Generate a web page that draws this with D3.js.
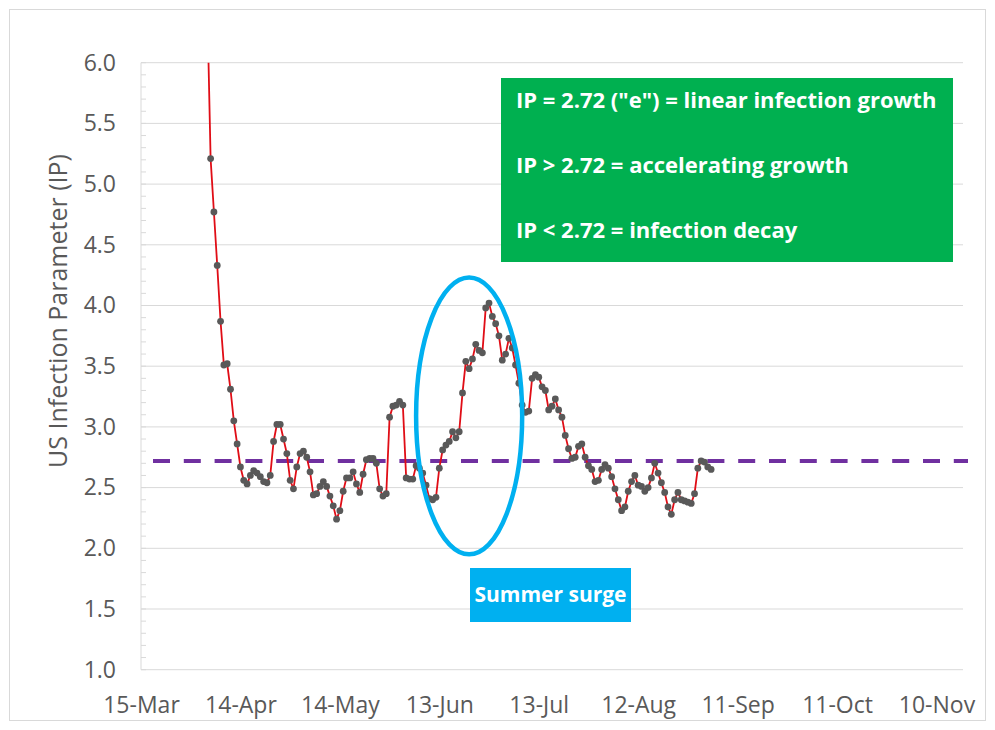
<!DOCTYPE html>
<html>
<head>
<meta charset="utf-8">
<script src="https://cdn.jsdelivr.net/npm/d3@7"></script>
<style>
  body { margin: 0; background: #fff; }
  svg { font-family: "Open Sans", "Noto Sans", sans-serif; }
</style>
</head>
<body>
<div id="chart"></div>
<script>
// daily US infection parameter, first value is 4-Apr (runs off the top of the chart)
const startDate = "2020-04-04";
const ipValues = [
  6.47,
  5.21, 4.77, 4.33, 3.87, 3.51, 3.52, 3.31, 3.05, 2.86, 2.67,
  2.56, 2.53, 2.60, 2.64, 2.62, 2.59, 2.55, 2.54, 2.60, 2.88,
  3.02, 3.02, 2.90, 2.78, 2.56, 2.49,
  2.67, 2.78, 2.80, 2.75, 2.63, 2.44, 2.45, 2.51, 2.55, 2.51,
  2.43, 2.35, 2.24, 2.31, 2.47, 2.58, 2.58, 2.63, 2.53, 2.46,
  2.61, 2.73, 2.74, 2.74, 2.70, 2.49, 2.43, 2.45, 3.08, 3.17, 3.18,
  3.21, 3.18, 2.58, 2.57, 2.57, 2.68, 2.66, 2.62, 2.52, 2.41,
  2.40, 2.42, 2.66, 2.81, 2.85, 2.88, 2.96, 2.91, 2.96, 3.28,
  3.54, 3.48, 3.56, 3.68, 3.63, 3.61, 3.98, 4.02, 3.91, 3.85,
  3.75, 3.55, 3.60, 3.73, 3.65, 3.51, 3.36, 3.18, 3.12, 3.13,
  3.40, 3.43, 3.41, 3.33, 3.30, 3.14, 3.17, 3.23, 3.14, 3.08,
  2.93, 2.82, 2.74, 2.75, 2.84, 2.86, 2.75, 2.68, 2.65, 2.55, 2.56,
  2.65, 2.69, 2.66, 2.59, 2.49, 2.40, 2.31, 2.34, 2.47, 2.55,
  2.60, 2.52, 2.51, 2.47, 2.50, 2.58, 2.70, 2.62, 2.54, 2.46,
  2.34, 2.28, 2.40, 2.46, 2.40, 2.39, 2.38, 2.37, 2.45, 2.66,
  2.72, 2.71, 2.67, 2.65
];

const xTickDates = ["2020-03-15", "2020-04-14", "2020-05-14", "2020-06-13", "2020-07-13",
                    "2020-08-12", "2020-09-11", "2020-10-11", "2020-11-10"];
const yTickValues = [1.0, 1.5, 2.0, 2.5, 3.0, 3.5, 4.0, 4.5, 5.0, 5.5, 6.0];

const linearLevel = 2.72;
const noteLines = ['IP = 2.72 ("e") = linear infection growth',
                   'IP > 2.72 = accelerating growth',
                   'IP < 2.72 = infection decay'];
const surgeLabel = "Summer surge";
const surgeDates = ["2020-06-06", "2020-07-08"];
const surgeValues = [1.95, 4.23];

const parse = d3.timeParse("%Y-%m-%d");
const day0 = parse(startDate);
const data = ipValues.map((v, i) => ({ date: d3.timeDay.offset(day0, i), value: v }));

const W = 995, H = 730;
const margin = {top: 62.7, right: 32, bottom: 60.3, left: 141};
const width = W - margin.left - margin.right,
      height = H - margin.top - margin.bottom;

const svg = d3.select("#chart").append("svg")
  .attr("width", W).attr("height", H);

// chart area border
svg.append("rect")
  .attr("x", 9.5).attr("y", 9.5)
  .attr("width", 976).attr("height", 711)
  .attr("fill", "#fff").attr("stroke", "#d9d9d9");

const g = svg.append("g").attr("transform", `translate(${margin.left},${margin.top})`);

const x = d3.scaleTime()
  .domain([parse("2020-03-15"), parse("2020-11-18")])
  .range([0, width]);
const y = d3.scaleLinear().domain([1, 6]).range([height, 0]);

// gridlines
g.append("g")
  .selectAll("line")
  .data(yTickValues)
  .join("line")
    .attr("x1", 0).attr("x2", width)
    .attr("y1", d => y(d)).attr("y2", d => y(d))
    .attr("stroke", "#d9d9d9").attr("stroke-width", 1);

// y axis with minor ticks on the inside
g.append("line")
  .attr("x1", 0).attr("x2", 0).attr("y1", 0).attr("y2", height)
  .attr("stroke", "#d9d9d9");
g.append("g")
  .selectAll("line")
  .data(d3.range(10, 61).map(d => d / 10))
  .join("line")
    .attr("x1", 0).attr("x2", 5)
    .attr("y1", d => y(d)).attr("y2", d => y(d))
    .attr("stroke", "#d9d9d9");

const yAxis = g.append("g")
  .call(d3.axisLeft(y).tickValues(yTickValues).tickFormat(d3.format(".1f")).tickSize(0).tickPadding(25));
yAxis.select(".domain").remove();
yAxis.selectAll("text")
  .attr("fill", "#595959").style("font-size", "23px").style("font-family", "Open Sans");

const xAxis = g.append("g")
  .attr("transform", `translate(0,${height})`)
  .call(d3.axisBottom(x).tickValues(xTickDates.map(parse)).tickFormat(d3.timeFormat("%-d-%b")).tickSize(0).tickPadding(27));
xAxis.select(".domain").remove();
xAxis.selectAll("text")
  .attr("fill", "#595959").style("font-size", "23px").style("font-family", "Open Sans");

// y axis title
svg.append("text")
  .attr("transform", "translate(57,311) rotate(-90)")
  .attr("text-anchor", "middle").attr("dominant-baseline", "central")
  .attr("fill", "#595959").style("font-size", "25px")
  .text("US Infection Parameter (IP)");

// e reference line
g.append("line")
  .attr("x1", 0).attr("x2", width + 5)
  .attr("y1", y(linearLevel)).attr("y2", y(linearLevel))
  .attr("stroke", "#7030a0").attr("stroke-width", 4)
  .attr("stroke-dasharray", "17,13.8").attr("stroke-dashoffset", 18.8);

// data line + markers, clipped at the top of the plot
g.append("clipPath").attr("id", "plot-clip")
  .append("rect").attr("width", width).attr("height", height);
const series = g.append("g").attr("clip-path", "url(#plot-clip)");

series.append("path")
  .datum(data)
  .attr("fill", "none")
  .attr("stroke", "#e00d16")
  .attr("stroke-width", 1.8)
  .attr("d", d3.line().x(d => x(d.date)).y(d => y(d.value)));

series.selectAll("circle")
  .data(data)
  .join("circle")
    .attr("cx", d => x(d.date)).attr("cy", d => y(d.value))
    .attr("r", 3.4)
    .attr("fill", "#595959");

// summer surge ellipse
const sx0 = x(parse(surgeDates[0])), sx1 = x(parse(surgeDates[1]));
const sy0 = y(surgeValues[0]), sy1 = y(surgeValues[1]);
g.append("ellipse")
  .attr("cx", (sx0 + sx1) / 2).attr("cy", (sy0 + sy1) / 2)
  .attr("rx", (sx1 - sx0) / 2).attr("ry", (sy0 - sy1) / 2)
  .attr("fill", "none").attr("stroke", "#00b0f0").attr("stroke-width", 4.5);

// green note box
const note = svg.append("g").attr("transform", "translate(501,78)");
note.append("rect").attr("width", 452).attr("height", 184).attr("fill", "#00b050");
note.selectAll("text")
  .data(noteLines)
  .join("text")
    .attr("x", 15).attr("y", (d, i) => 30 + i * 65)
    .attr("fill", "#fff").style("font-size", "22px").style("font-weight", "bold")
    .text(d => d);

// summer surge label
const lab = svg.append("g").attr("transform", "translate(470,568)");
lab.append("rect").attr("width", 161).attr("height", 54).attr("fill", "#00b0f0");
lab.append("text")
  .attr("x", 80.5).attr("y", 26).attr("text-anchor", "middle").attr("dominant-baseline", "central")
  .attr("fill", "#fff").style("font-size", "21px").style("font-weight", "bold")
  .text(surgeLabel);
</script>
</body>
</html>
